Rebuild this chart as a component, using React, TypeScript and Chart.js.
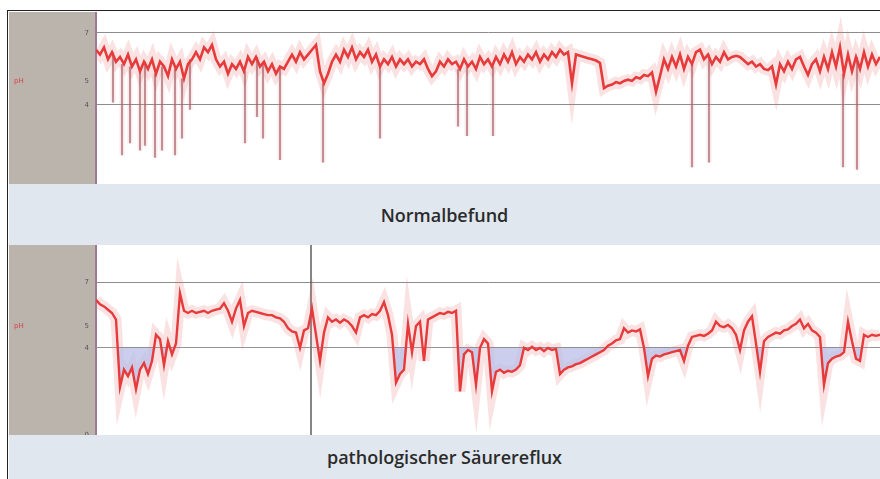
import React, { useEffect, useRef } from "react";
import { Chart, registerables } from "chart.js";
Chart.register(...registerables);

// sample spacing along the recording (arbitrary time units, 0..784)
const STEP = 4;

// Normalbefund: pH readings every STEP units
const topPH = [
  6.3, 6.1, 6.4, 5.9, 6.2, 5.8, 6.0, 5.7, 6.1, 5.6,
  5.9, 5.4, 5.8, 5.5, 5.9, 5.3, 5.8, 5.6, 5.2, 5.9,
  5.5, 5.8, 5.1, 5.7, 5.9, 6.2, 5.9, 6.4, 6.2, 6.5,
  5.9, 5.6, 5.8, 5.3, 5.7, 5.5, 5.8, 5.4, 6.0, 5.7,
  6.0, 5.6, 5.8, 5.4, 5.7, 5.3, 5.6, 5.5, 5.8, 6.1,
  5.8, 6.2, 5.9, 6.1, 6.3, 6.5, 5.4, 4.9, 5.3, 5.8,
  6.1, 5.8, 6.3, 6.0, 6.4, 5.9, 6.2, 6.0, 6.3, 5.8,
  6.1, 5.6, 5.9, 5.7, 6.0, 5.6, 5.9, 5.7, 5.9, 5.6,
  5.8, 5.7, 5.9, 5.5, 5.2, 5.4, 5.8, 5.6, 5.9, 5.7,
  5.8, 5.5, 5.9, 5.6, 5.8, 5.5, 6.0, 5.7, 5.9, 5.6,
  6.0, 5.7, 6.1, 5.8, 6.2, 5.7, 6.0, 5.8, 6.1, 5.9,
  6.2, 5.8, 6.1, 5.9, 6.2, 6.0, 6.3, 6.1, 6.2, 4.9,
  6.1, 6.05, 6.0, 5.95, 5.9, 5.85, 5.75, 4.7, 4.8, 4.85,
  4.95, 4.9, 5.0, 5.05, 5.0, 5.15, 5.1, 5.25, 5.2, 5.35,
  4.55, 5.2, 5.9, 5.5, 6.0, 5.6, 6.1, 5.5, 6.0, 5.7,
  6.2, 6.3, 5.9, 6.1, 5.7, 6.0, 5.8, 6.2, 5.9, 6.0,
  6.05, 6.0, 5.85, 5.7, 5.8, 5.6, 5.7, 5.5, 5.45, 5.6,
  4.85, 5.7, 5.4, 5.8, 5.5, 5.9, 6.0, 5.6, 5.25, 5.7,
  5.9, 5.4, 6.0, 5.5, 6.2, 5.6, 6.4, 5.3, 6.1, 5.4,
  6.0, 5.5, 6.2, 5.6, 6.1, 5.7, 6.0,
];

// short acid drops in the normal recording
const topSpikeT = [17, 26, 34, 44, 49, 59, 66, 79, 86, 94, 149, 161, 167, 184, 227, 284, 362, 371, 397, 596, 613, 747, 761];
const topSpikeLow = [4.1, 1.9, 2.4, 2.1, 2.3, 1.8, 2.1, 1.9, 2.6, 3.8, 2.4, 3.5, 2.6, 1.7, 1.6, 2.6, 3.1, 2.7, 2.7, 1.4, 1.6, 1.4, 1.3];

// pathologischer Säurereflux: pH readings every STEP units
const botPH = [
  6.2, 6.0, 5.9, 5.75, 5.6, 5.3, 2.2, 3.0, 2.7, 3.1,
  2.1, 3.0, 3.3, 2.8, 3.4, 4.6, 4.4, 3.2, 4.3, 3.7,
  4.2, 6.5, 5.7, 5.6, 5.7, 5.6, 5.65, 5.7, 5.6, 5.7,
  5.75, 5.8, 6.05, 5.7, 5.2, 5.8, 6.2, 5.0, 5.6, 5.7,
  5.65, 5.6, 5.55, 5.5, 5.5, 5.4, 5.35, 5.2, 4.9, 4.75,
  4.7, 4.0, 4.8, 4.9, 5.8, 4.6, 3.4, 4.7, 5.4, 5.2,
  5.3, 5.15, 5.3, 5.2, 5.0, 4.7, 5.4, 5.5, 5.4, 5.55,
  5.5, 5.7, 6.1, 5.5, 4.6, 2.4, 2.8, 3.0, 5.1, 3.8,
  5.0, 5.2, 3.4, 5.3, 5.4, 5.5, 5.6, 5.55, 5.65, 5.6,
  5.7, 2.0, 3.7, 3.9, 3.8, 2.3, 4.0, 4.4, 4.2, 2.0,
  2.9, 3.0, 2.85, 2.95, 2.9, 3.0, 3.2, 4.0, 3.9, 4.05,
  3.9, 4.0, 3.85, 4.0, 3.9, 3.95, 2.8, 3.0, 3.1, 3.15,
  3.25, 3.3, 3.4, 3.5, 3.6, 3.7, 3.8, 3.9, 4.1, 4.2,
  4.35, 4.4, 4.9, 4.7, 4.8, 4.75, 4.85, 4.0, 2.7, 3.5,
  3.65, 3.6, 3.7, 3.75, 3.8, 3.85, 3.9, 3.4, 4.1, 4.5,
  4.55, 4.6, 4.55, 4.65, 4.8, 5.2, 5.0, 4.95, 5.05, 4.9,
  4.6, 3.9, 4.8, 5.2, 5.45, 4.2, 2.9, 4.3, 4.5, 4.6,
  4.7, 4.65, 4.8, 4.85, 5.0, 5.1, 5.3, 4.9, 5.1, 4.8,
  4.7, 4.5, 2.3, 3.3, 3.5, 3.6, 3.65, 3.8, 5.2, 4.3,
  3.5, 3.4, 4.6, 4.5, 4.6, 4.55, 4.6,
];

const botMarkerT = 215;

const topTicks = [4, 5, 7];
const botTicks = [0, 4, 5, 7];
const tickText: Record<number, string> = { 0: "0", 4: "4", 5: "5", 7: "7" };
const refLevels = [4, 7];

const GRAY = "#bbb4ad";
const TRACE = "#e63a3b";
const GLOW = "rgba(228,110,110,0.2)";

const panelBg = {
  id: "panelBg",
  beforeDraw(chart: any) {
    const { ctx, chartArea } = chart;
    ctx.save();
    ctx.fillStyle = "#ffffff";
    ctx.fillRect(0, 0, chart.width, chart.height);
    ctx.fillStyle = GRAY;
    ctx.fillRect(0, 0, chartArea.left, chart.height);
    ctx.fillStyle = "#d8404a";
    ctx.font = '7px "DejaVu Sans"';
    ctx.textAlign = "left";
    ctx.textBaseline = "middle";
    ctx.fillText("pH", 5, chart.scales.y.getPixelForValue(5));
    ctx.restore();
  },
};

function PhPanel(props: {
  width: number;
  height: number;
  yMin: number;
  yMax: number;
  ticks: number[];
  values: number[];
  spikeT?: number[];
  spikeLow?: number[];
  marker?: number;
  fillBelow4?: boolean;
  lineWidth: number;
}) {
  const ref = useRef<HTMLCanvasElement>(null);
  useEffect(() => {
    const pts = props.values.map((v, i) => ({ x: i * STEP, y: v }));
    const datasets: any[] = [
      {
        label: "glow",
        data: pts,
        borderColor: GLOW,
        borderWidth: 11,
        pointRadius: 0,
        order: 3,
        fill: false,
      },
    ];
    if (props.spikeT && props.spikeLow) {
      const sp: any[] = [];
      props.spikeT.forEach((t, k) => {
        const hi = props.values[Math.round(t / STEP)];
        sp.push({ x: t, y: hi }, { x: t, y: props.spikeLow![k] }, { x: t, y: null });
      });
      datasets.push({
        label: "spikes-glow",
        data: sp,
        borderColor: "rgba(225,160,160,0.22)",
        borderWidth: 5,
        pointRadius: 0,
        spanGaps: false,
        order: 2,
      });
      datasets.push({
        label: "spikes",
        data: sp,
        borderColor: "rgba(165,85,95,0.55)",
        borderWidth: 1,
        pointRadius: 0,
        spanGaps: false,
        order: 1,
      });
    }
    if (props.marker !== undefined) {
      datasets.push({
        label: "marker",
        data: [
          { x: props.marker, y: props.yMin },
          { x: props.marker, y: props.yMax },
        ],
        borderColor: "#5e5e5e",
        borderWidth: 1.5,
        pointRadius: 0,
        order: 4,
      });
    }
    datasets.push({
      label: "pH",
      data: pts,
      borderColor: TRACE,
      borderWidth: props.lineWidth,
      pointRadius: 0,
      order: 0,
      fill: props.fillBelow4
        ? { target: { value: 4 }, above: "rgba(0,0,0,0)", below: "rgba(190,194,232,0.8)" }
        : false,
    });

    const chart = new Chart(ref.current!, {
      type: "line",
      data: { datasets },
      plugins: [panelBg],
      options: {
        animation: false,
        responsive: false,
        devicePixelRatio: 1,
        layout: { padding: 0 },
        plugins: { legend: { display: false }, tooltip: { enabled: false } },
        scales: {
          x: { type: "linear", min: 0, max: 784, display: false },
          y: {
            type: "linear",
            min: props.yMin,
            max: props.yMax,
            afterBuildTicks: (s: any) => {
              s.ticks = props.ticks.map((v) => ({ value: v }));
            },
            afterFit: (s: any) => {
              s.width = 87;
              s.paddingTop = 0;
              s.paddingBottom = 0;
            },
            ticks: {
              color: "#555",
              font: { size: 7, family: "DejaVu Sans" },
              padding: 7,
              callback: (v: any) => tickText[v] ?? String(v),
            },
            grid: {
              drawTicks: false,
              lineWidth: 1,
              color: (c: any) => (refLevels.includes(c.tick?.value) ? "#8c8c8c" : "rgba(0,0,0,0)"),
            },
            border: { display: true, color: "#a07896", width: 2 },
          },
        },
      },
    });
    return () => chart.destroy();
  }, []);
  return <canvas ref={ref} width={props.width} height={props.height} style={{ display: "block" }} />;
}

const caption: React.CSSProperties = {
  position: "absolute",
  left: 9,
  width: 871,
  background: "#e0e7ef",
  display: "flex",
  alignItems: "center",
  justifyContent: "center",
  fontFamily: '"Open Sans", sans-serif',
  fontWeight: 600,
  fontSize: 18,
  color: "#2b2b2b",
};

export default function App() {
  return (
    <div style={{ position: "fixed", left: 0, top: 0, width: 880, height: 479, background: "#fff", overflow: "hidden" }}>
      <div style={{ position: "absolute", left: 7, top: 10, width: 900, height: 500, border: "1.5px solid #222", boxSizing: "border-box" }} />
      <div style={{ position: "absolute", left: 9, top: 12 }}>
        <PhPanel width={871} height={172} yMin={0.7} yMax={7.875} ticks={topTicks} values={topPH} spikeT={topSpikeT} spikeLow={topSpikeLow} lineWidth={2.6} />
      </div>
      <div style={{ ...caption, top: 184, height: 61 }}>Normalbefund</div>
      <div style={{ position: "absolute", left: 9, top: 245 }}>
        <PhPanel width={871} height={190} yMin={0} yMax={8.72} ticks={botTicks} values={botPH} marker={botMarkerT} fillBelow4 lineWidth={2.4} />
      </div>
      <div style={{ ...caption, top: 435, height: 44 }}>pathologischer Säurereflux</div>
    </div>
  );
}
